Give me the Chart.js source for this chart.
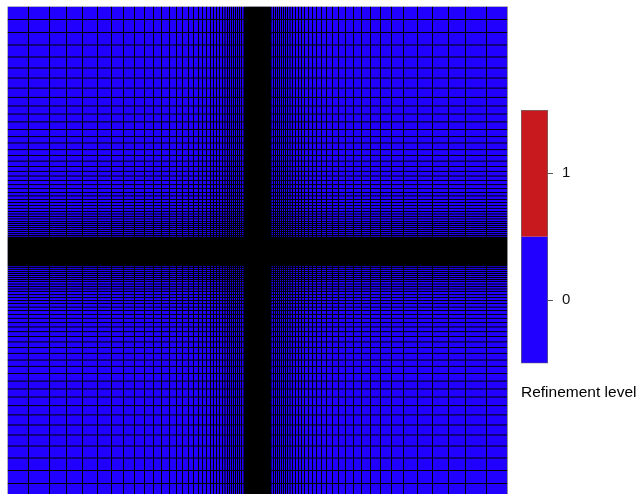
<!DOCTYPE html>
<html>
<head>
<meta charset="utf-8">
<script src="https://cdn.jsdelivr.net/npm/chart.js@4/dist/chart.umd.min.js"></script>
<style>
  html, body { margin: 0; padding: 0; background: #fff; }
  body { width: 637px; height: 494px; overflow: hidden; position: relative; }
  #mesh { position: absolute; left: 0; top: 0; }
  #bar { position: absolute; left: 500px; top: 90px; }
</style>
</head>
<body>
<canvas id="mesh" width="637" height="498"></canvas>
<canvas id="bar" width="137" height="320"></canvas>
<script>
// Mesh domain
const xRange = [-1, 1];
const yRange = [-1, 1];

// Interior mesh lines, graded towards the two centre lines
const xLines = [
  -0.916, -0.832, -0.764, -0.700, -0.640, -0.584, -0.536, -0.492, -0.452, -0.416,
  -0.384, -0.352, -0.324, -0.300, -0.276, -0.256, -0.236, -0.220, -0.204, -0.188,
  -0.176, -0.164, -0.152, -0.140, -0.130, -0.120, -0.112, -0.104, -0.096, -0.088,
  -0.080, -0.072, -0.064,
  0.064, 0.072, 0.080, 0.088, 0.096, 0.104, 0.112, 0.120, 0.130, 0.140,
  0.152, 0.164, 0.176, 0.188, 0.204, 0.220, 0.236, 0.256, 0.276, 0.300,
  0.324, 0.352, 0.384, 0.416, 0.452, 0.492, 0.536, 0.584, 0.640, 0.700,
  0.764, 0.832, 0.916
];

const yLines = [
  -0.947, -0.894, -0.843, -0.794, -0.749, -0.708, -0.667, -0.629, -0.594, -0.561,
  -0.529, -0.498, -0.469, -0.443, -0.416, -0.392, -0.369, -0.347, -0.327, -0.308,
  -0.290, -0.273, -0.257, -0.241, -0.227, -0.212, -0.200, -0.188, -0.176, -0.163,
  -0.153, -0.143, -0.133, -0.122, -0.114, -0.106, -0.098, -0.090, -0.082, -0.073,
  -0.065,
  0.065, 0.073, 0.082, 0.090, 0.098, 0.106, 0.114, 0.122, 0.133, 0.143,
  0.153, 0.163, 0.176, 0.188, 0.200, 0.212, 0.227, 0.241, 0.257, 0.273,
  0.290, 0.308, 0.327, 0.347, 0.369, 0.392, 0.416, 0.443, 0.469, 0.498,
  0.529, 0.561, 0.594, 0.629, 0.667, 0.708, 0.749, 0.794, 0.843, 0.894,
  0.947
];

// Very fine mesh lines packed along the centre strips
const xFineLines = [
  -0.052, -0.048, -0.044, -0.040, -0.036, -0.032, -0.028, -0.024, -0.020, -0.016,
  -0.012, -0.008, -0.004, 0.000, 0.004, 0.008, 0.012, 0.016, 0.020, 0.024,
  0.028, 0.032, 0.036, 0.040, 0.044, 0.048, 0.052
];
const yFineLines = [
  -0.056, -0.052, -0.048, -0.044, -0.040, -0.036, -0.032, -0.028, -0.024, -0.020,
  -0.016, -0.012, -0.008, -0.004, 0.000, 0.004, 0.008, 0.012, 0.016, 0.020,
  0.024, 0.028, 0.032, 0.036, 0.040, 0.044, 0.048, 0.052, 0.056
];

// Refinement levels and their colours
const levels = [0, 1];
const levelColors = ['#2200ff', '#c8191e'];
const levelTitle = 'Refinement level';

// Every cell of this mesh sits at the same level
const cellLevel = 0;

// Line segments for the mesh, separated by null gaps
const verticalSegments = xs => xs.flatMap(x => [
  { x: x, y: yRange[0] }, { x: x, y: yRange[1] }, { x: x, y: null }
]);
const horizontalSegments = ys => ys.flatMap(y => [
  { x: xRange[0], y: y }, { x: xRange[1], y: y }, { x: null, y: null }
]);
const domainOutline = [
  { x: xRange[0], y: yRange[0] }, { x: xRange[0], y: yRange[1] },
  { x: xRange[1], y: yRange[1] }, { x: xRange[1], y: yRange[0] },
  { x: xRange[0], y: yRange[0] }
];

const lineStyle = { pointRadius: 0, borderWidth: 1, fill: false, tension: 0, spanGaps: false, borderColor: '#000', order: 2 };
const fineStyle = Object.assign({}, lineStyle, { borderWidth: 2 });

new Chart(document.getElementById('mesh'), {
  type: 'line',
  data: {
    datasets: [
      {
        label: 'cells',
        data: [{ x: xRange[0], y: yRange[1] }, { x: xRange[1], y: yRange[1] }],
        fill: 'start',
        backgroundColor: levelColors[levels.indexOf(cellLevel)],
        borderWidth: 0,
        pointRadius: 0,
        order: 3
      },
      Object.assign({ label: 'vertical lines', data: verticalSegments(xLines) }, lineStyle),
      Object.assign({ label: 'horizontal lines', data: horizontalSegments(yLines) }, lineStyle),
      Object.assign({ label: 'vertical fine lines', data: verticalSegments(xFineLines) }, fineStyle),
      Object.assign({ label: 'horizontal fine lines', data: horizontalSegments(yFineLines) }, fineStyle),
      Object.assign({}, lineStyle, { label: 'outline', data: domainOutline, borderColor: '#8a8a8a', order: 1 })
    ]
  },
  options: {
    responsive: false,
    animation: false,
    events: [],
    layout: { padding: { left: 7.5, top: 6.5, right: 129.5, bottom: 1.5 } },
    plugins: { legend: { display: false }, tooltip: { enabled: false } },
    scales: {
      x: { type: 'linear', min: xRange[0], max: xRange[1], display: false },
      y: { type: 'linear', min: yRange[0], max: yRange[1], display: false }
    }
  }
});

// Colour key
const keyFont = { family: "'Liberation Sans', Arial, sans-serif", size: 15, weight: 'normal' };

new Chart(document.getElementById('bar'), {
  type: 'bar',
  data: {
    labels: [''],
    datasets: levels.map((lv, i) => ({
      label: String(lv),
      data: [[lv - 0.5, lv + 0.5]],
      backgroundColor: levelColors[i],
      borderColor: '#6e6e6e',
      borderWidth: 1,
      borderSkipped: i === 0 ? 'end' : 'start',
      categoryPercentage: 1,
      barPercentage: 1
    }))
  },
  options: {
    responsive: false,
    animation: false,
    events: [],
    layout: { padding: { left: 21, top: 20, right: 0, bottom: 8 } },
    plugins: {
      legend: { display: false },
      tooltip: { enabled: false },
      title: {
        display: true,
        text: levelTitle,
        position: 'bottom',
        align: 'start',
        color: '#000',
        font: Object.assign({}, keyFont, { size: 15.5 }),
        padding: { top: 20, bottom: 0 }
      }
    },
    scales: {
      x: { display: false, stacked: true },
      y: {
        position: 'right',
        min: levels[0] - 0.5,
        max: levels[levels.length - 1] + 0.5,
        afterBuildTicks: s => { s.ticks = levels.map(v => ({ value: v })); },
        afterFit: s => { s.width = 89; },
        ticks: { color: '#111', font: keyFont, padding: 9 },
        grid: { drawOnChartArea: false, tickLength: 5, color: '#555' },
        border: { display: false }
      }
    }
  }
});
</script>
</body>
</html>
